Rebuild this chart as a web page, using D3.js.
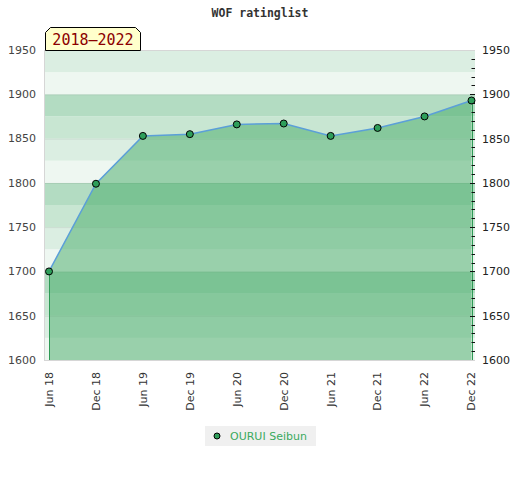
<!DOCTYPE html>
<html>
<head>
<meta charset="utf-8">
<script src="https://cdn.jsdelivr.net/npm/d3@7"></script>
<style>
  body { margin: 0; background: #fff; }
  svg { font-family: "DejaVu Sans", sans-serif; }
</style>
</head>
<body>
<svg id="chart" width="520" height="480"></svg>
<script>
// chart data
const periods = ["Jun 18", "Dec 18", "Jun 19", "Dec 19", "Jun 20", "Dec 20", "Jun 21", "Dec 21", "Jun 22", "Dec 22"];
const ratings = [1700, 1799, 1853, 1855, 1866, 1867, 1853, 1862, 1875, 1893];
const yTicks = [1600, 1650, 1700, 1750, 1800, 1850, 1900, 1950];
const playerName = "OURUI Seibun";
const rangeLabel = "2018–2022";
const chartTitle = "WOF ratinglist";

const svg = d3.select("#chart");

const plot = { left: 45, right: 475, top: 50, bottom: 360 };

const x = d3.scalePoint()
  .domain(periods)
  .range([49, 471.5]);

const y = d3.scaleLinear()
  .domain([1600, 1950])
  .range([plot.bottom, plot.top]);

// background bands, 25 points each, cycling by hundreds
const bandColors = ["#eef7f1", "#dbeee2", "#c8e6d2", "#b3dcc2"];
const bands = d3.range(1600, 1950, 25);

svg.append("g")
  .selectAll("rect")
  .data(bands)
  .enter()
  .append("rect")
  .attr("x", plot.left)
  .attr("width", plot.right - plot.left)
  .attr("y", d => y(d + 25))
  .attr("height", d => y(d) - y(d + 25))
  .attr("fill", d => bandColors[(d % 100) / 25]);

// grid lines
svg.append("g")
  .selectAll("line")
  .data(yTicks)
  .enter()
  .append("line")
  .attr("x1", plot.left)
  .attr("x2", plot.right)
  .attr("y1", d => y(d) + 0.5)
  .attr("y2", d => y(d) + 0.5)
  .attr("stroke", "rgba(0,0,0,0.08)");

// area under the rating line
const area = d3.area()
  .x((d, i) => x(periods[i]))
  .y0(y(1600))
  .y1(d => y(d));

svg.append("path")
  .datum(ratings)
  .attr("d", area)
  .attr("fill", "rgb(67,170,102)")
  .attr("fill-opacity", 0.5);

// drop lines at first and last point
const ends = [0, ratings.length - 1];
svg.append("g")
  .selectAll("line")
  .data(ends)
  .enter()
  .append("line")
  .attr("x1", i => Math.round(x(periods[i])) + 0.5)
  .attr("x2", i => Math.round(x(periods[i])) + 0.5)
  .attr("y1", i => y(ratings[i]))
  .attr("y2", plot.bottom)
  .attr("stroke", "#2e9a55")
  .attr("stroke-width", 1);

// left / bottom frame
svg.append("line")
  .attr("x1", plot.left - 0.5).attr("x2", plot.left - 0.5)
  .attr("y1", plot.top).attr("y2", plot.bottom + 1)
  .attr("stroke", "#d6d6d6");
svg.append("line")
  .attr("x1", plot.left - 1).attr("x2", plot.right)
  .attr("y1", plot.bottom + 0.5).attr("y2", plot.bottom + 0.5)
  .attr("stroke", "#d6d6d6");
svg.append("line")
  .attr("x1", plot.left).attr("x2", plot.right)
  .attr("y1", plot.top + 0.5).attr("y2", plot.top + 0.5)
  .attr("stroke", "#d6d6d6");

// rating line
const line = d3.line()
  .x((d, i) => x(periods[i]))
  .y(d => y(d));

svg.append("path")
  .datum(ratings)
  .attr("d", line)
  .attr("fill", "none")
  .attr("stroke", "#5b9fd8")
  .attr("stroke-width", 1.5);

// markers
svg.append("g")
  .selectAll("circle")
  .data(ratings)
  .enter()
  .append("circle")
  .attr("cx", (d, i) => x(periods[i]))
  .attr("cy", d => y(d))
  .attr("r", 3.5)
  .attr("fill", "#2e9e5a")
  .attr("stroke", "#000")
  .attr("stroke-width", 1);

// left axis labels
svg.append("g")
  .selectAll("text")
  .data(yTicks)
  .enter()
  .append("text")
  .attr("x", 36)
  .attr("y", d => y(d))
  .attr("dy", "0.35em")
  .attr("text-anchor", "end")
  .attr("font-size", 11)
  .attr("fill", "#444")
  .text(d => d);

// right axis with minor ticks
const yRight = d3.axisRight(y)
  .tickValues(yTicks)
  .tickSize(0)
  .tickPadding(7)
  .tickFormat(d3.format("d"));

const rightAxis = svg.append("g")
  .attr("transform", `translate(${plot.right},0)`)
  .call(yRight);
rightAxis.select(".domain").remove();
rightAxis.selectAll("text")
  .attr("font-size", 11)
  .attr("font-family", "DejaVu Sans, sans-serif")
  .attr("fill", "#222");

svg.append("g")
  .selectAll("line")
  .data(d3.range(1610, 1950, 10))
  .enter()
  .append("line")
  .attr("x1", d => d % 50 === 0 ? plot.right - 5 : plot.right - 3.5)
  .attr("x2", plot.right)
  .attr("y1", d => Math.round(y(d)) + 0.5)
  .attr("y2", d => Math.round(y(d)) + 0.5)
  .attr("stroke", "#111")
  .attr("stroke-width", 1);

// x axis labels, rotated
svg.append("g")
  .selectAll("text")
  .data(periods)
  .enter()
  .append("text")
  .attr("transform", d => `translate(${x(d)},372) rotate(-90)`)
  .attr("dy", "0.35em")
  .attr("text-anchor", "end")
  .attr("font-size", 11)
  .attr("fill", "#333")
  .text(d => d);

// title
svg.append("text")
  .attr("x", 260)
  .attr("y", 16.5)
  .attr("text-anchor", "middle")
  .attr("font-family", "DejaVu Sans Mono, monospace")
  .attr("font-weight", "bold")
  .attr("font-size", 11.5)
  .attr("fill", "#333")
  .text(chartTitle);

// period tag
const tag = { x0: 45.5, x1: 140.5, y0: 27.5, y1: 50.5, c: 5 };
svg.append("path")
  .attr("d", `M${tag.x0},${tag.y1} L${tag.x0},${tag.y0 + tag.c} L${tag.x0 + tag.c},${tag.y0}
              L${tag.x1 - tag.c},${tag.y0} L${tag.x1},${tag.y0 + tag.c} L${tag.x1},${tag.y1} Z`)
  .attr("fill", "#ffffcc")
  .attr("stroke", "#000")
  .attr("stroke-width", 1);

svg.append("text")
  .attr("x", (tag.x0 + tag.x1) / 2)
  .attr("y", 45)
  .attr("text-anchor", "middle")
  .attr("font-family", "DejaVu Sans Mono, monospace")
  .attr("font-size", 15)
  .attr("fill", "#8b0000")
  .text(rangeLabel);

// legend
const legend = svg.append("g").attr("transform", "translate(205,426)");
legend.append("rect")
  .attr("width", 111)
  .attr("height", 20)
  .attr("fill", "#f0f0f0");
legend.append("circle")
  .attr("cx", 12)
  .attr("cy", 10)
  .attr("r", 3)
  .attr("fill", "#2e9e5a")
  .attr("stroke", "#000");
legend.append("text")
  .attr("x", 25)
  .attr("y", 10)
  .attr("dy", "0.35em")
  .attr("font-size", 11)
  .attr("fill", "#3aaa5e")
  .text(playerName);
</script>
</body>
</html>
